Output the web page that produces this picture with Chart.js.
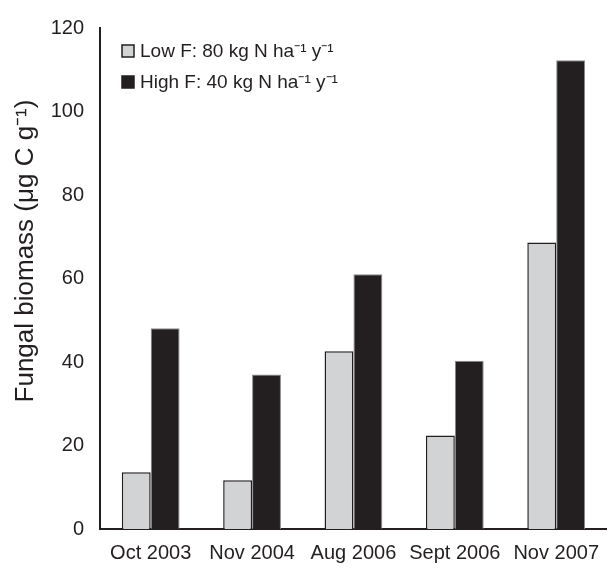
<!DOCTYPE html>
<html>
<head>
<meta charset="utf-8">
<script src="https://cdn.jsdelivr.net/npm/chart.js@4.4.0/dist/chart.umd.min.js"></script>
<style>
  html, body { margin: 0; padding: 0; background: #fff; }
  #wrap { width: 611px; height: 571px; }
</style>
</head>
<body>
<div id="wrap"><canvas id="biomassChart"></canvas></div>
<script>
var categories = ['Oct 2003', 'Nov 2004', 'Aug 2006', 'Sept 2006', 'Nov 2007'];
var lowF = [13.6, 11.7, 42.6, 22.4, 68.6];
var highF = [48.1, 37.0, 61.0, 40.3, 112.3];
var seriesNames = ['Low F: 80 kg N ha\u207B\u00B9 y\u207B\u00B9', 'High F: 40 kg N ha\u207B\u00B9 y\u207B\u00B9'];
var yTitle = 'Fungal biomass (\u03BCg C g\u207B\u00B9)';

var ink = '#231f20';
var fontFamily = '"Liberation Sans", Arial, sans-serif';

// legend drawn inside the plot, top left
var insideLegend = {
    id: 'insideLegend',
    afterDraw: function(chart) {
        var ctx = chart.ctx;
        var area = chart.chartArea;
        ctx.save();
        ctx.font = '19px ' + fontFamily;
        ctx.textBaseline = 'middle';
        ctx.textAlign = 'left';
        chart.data.datasets.forEach(function(ds, i) {
            var y = area.top + 23 + i * 31;
            var x = area.left + 22;
            ctx.fillStyle = ds.backgroundColor;
            ctx.fillRect(x, y - 6, 12, 12);
            ctx.strokeStyle = ink;
            ctx.lineWidth = 1.5;
            ctx.strokeRect(x, y - 6, 12, 12);
            ctx.fillStyle = ink;
            ctx.fillText(ds.label, x + 18, y + 1);
        });
        ctx.restore();
    }
};

// rotated y axis title
var sideTitle = {
    id: 'sideTitle',
    afterDraw: function(chart) {
        var ctx = chart.ctx;
        ctx.save();
        ctx.translate(26, 251);
        ctx.rotate(-Math.PI / 2);
        ctx.font = '26px ' + fontFamily;
        ctx.fillStyle = ink;
        ctx.textAlign = 'center';
        ctx.textBaseline = 'middle';
        ctx.fillText(yTitle, 0, 0);
        ctx.restore();
    }
};

var ctx1 = document.getElementById('biomassChart').getContext('2d');
var biomassChart = new Chart(ctx1, {
    type: 'bar',
    data: {
        labels: categories,
        datasets: [{
            label: seriesNames[0],
            data: lowF,
            backgroundColor: '#d1d3d4',
            borderColor: ink,
            borderWidth: 1.5,
            borderSkipped: 'bottom'
        }, {
            label: seriesNames[1],
            data: highF,
            backgroundColor: ink,
            borderColor: '#8a8a8a',
            borderWidth: 1,
            borderSkipped: 'bottom'
        }]
    },
    options: {
        responsive: true,
        maintainAspectRatio: false,
        animation: false,
        layout: { padding: { top: 22, right: 0, left: 0, bottom: 0 } },
        datasets: {
            bar: { categoryPercentage: 0.57, barPercentage: 1.0 }
        },
        plugins: {
            legend: { display: false },
            tooltip: { enabled: false }
        },
        scales: {
            x: {
                grid: { display: false, drawTicks: false },
                border: { display: true, color: ink, width: 2 },
                ticks: {
                    color: ink,
                    padding: 12,
                    maxRotation: 0,
                    autoSkip: false,
                    font: { family: fontFamily, size: 20 }
                },
                afterFit: function(scale) { scale.height = 42; }
            },
            y: {
                min: 0,
                max: 120,
                grid: { display: false, drawTicks: false },
                border: { display: true, color: ink, width: 2 },
                ticks: {
                    stepSize: 20,
                    color: ink,
                    padding: 16,
                    font: { family: fontFamily, size: 20 }
                },
                afterFit: function(scale) { scale.width = 100; }
            }
        }
    },
    plugins: [insideLegend, sideTitle]
});
</script>
</body>
</html>
